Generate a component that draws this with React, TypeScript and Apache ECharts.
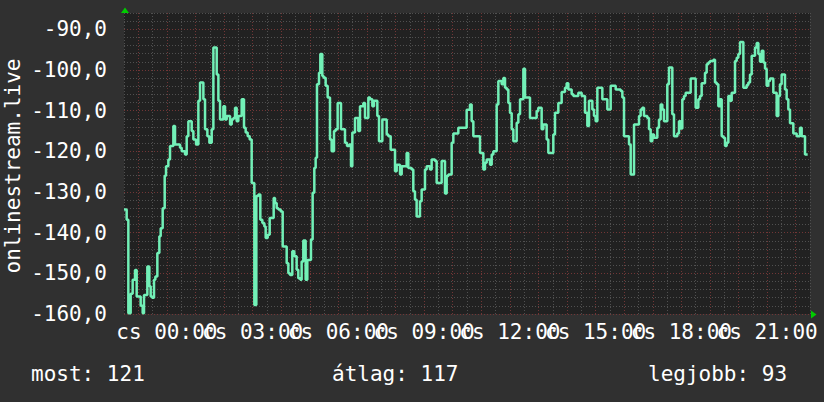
import React, { useEffect, useRef } from 'react';
import * as echarts from 'echarts';

// x values: minutes after 22:30 of the previous day (24 h window)
const START_HOUR = 22.5;
const SPAN_MINUTES = 1440;
const dayPrefix = 'cs';
const yAxisTitle = 'onlinestream.live';
const summaryLabels = ['most', 'átlag', 'legjobb'];
const summaryValues = [121, 117, 93];

const signal: [number, number][] = [
  [0, -134.3], [5.6, -136.8], [9.1, -159.8], [14.0, -155], [18.2, -151.6], [23.1, -149.2], [26.6, -155.7],
  [35.0, -158], [39.2, -159.8], [42.0, -155.3], [49.0, -148.3], [53.2, -153.2], [56.0, -155.7], [58.8, -156],
  [63.0, -151.6], [65.8, -150.8], [70.0, -145], [74.2, -140.9], [77.0, -138.9], [81.2, -134], [85.4, -126],
  [88.2, -123.7], [93.1, -122], [96.6, -118.7], [103.6, -113.8], [107.1, -118.3], [117.6, -119.1], [121.1, -120],
  [128.1, -120.8], [131.6, -116.3], [135.1, -112.6], [142.1, -115], [145.6, -117.1], [151.2, -118.3], [156.1, -107.6],
  [159.6, -103.1], [166.6, -107.2], [170.1, -114.6], [175.0, -116.3], [179.2, -117.9], [184.1, -114.6], [187.6, -94.5],
  [194.6, -101.1], [198.1, -107.6], [201.6, -112.2], [208.6, -108.9], [212.1, -112.2], [215.6, -111.3], [222.6, -113.4],
  [226.1, -112.2], [229.6, -111.8], [233.1, -109.3],
  [236.5, -112.6], [240.0, -111.3], [247.0, -107.2], [251.9, -114.2], [255.4, -115.4], [259.6, -116.3], [263.8, -117.1],
  [268.0, -127.8], [273.6, -157.8], [277.8, -131], [282.0, -130.6], [286.2, -136.8], [290.4, -137.6], [294.6, -138.5],
  [297.4, -141.3], [301.6, -140.5], [305.8, -136.4], [314.2, -131.5], [317.0, -132.7], [320.5, -134], [324.0, -134.3],
  [328.9, -134.8], [333.1, -143.4], [341.5, -147.5], [345.0, -150], [348.5, -150.4], [353.3, -144.6], [357.5, -145.8],
  [362.4, -149.1], [365.9, -151.2], [370.1, -151.6], [372.9, -147.1], [376.4, -141.9], [381.3, -151.6], [384.8, -146.7],
  [392.5, -141.7], [396.0, -130.2], [399.5, -124.1], [402.3, -121.6], [405.1, -103.5], [409.3, -100.7], [412.1, -96.1],
  [416.3, -101.5], [419.1, -101.9], [423.3, -103.9], [427.5, -106.8], [432.4, -117.1], [435.9, -120], [440.8, -115],
  [444.3, -114.6], [448.5, -108.1], [455.5, -114.6], [463.9, -117.9], [468.1, -118.7], [473.0, -118.3], [476.5, -123.7],
  [479.3, -115.4],
  [484.9, -111.8], [491.9, -115], [495.4, -108.9], [502.4, -108.1], [505.9, -111.8], [512.9, -106.8], [516.4, -107.2],
  [521.3, -108.9], [524.8, -107.6], [531.8, -111.3], [535.3, -117.5], [542.3, -112.2], [551.4, -115.9], [554.9, -116.3],
  [559.8, -119.6], [568.9, -124.9], [572.4, -123.3], [579.4, -125.7], [582.9, -123.7], [593.3, -120.4], [596.8, -124.1],
  [603.8, -124.5], [607.3, -129.8], [610.8, -131.9], [614.3, -136], [621.3, -132.3], [624.8, -129.4], [631.8, -124.5],
  [635.3, -123.7], [642.3, -124.5], [645.8, -122], [652.8, -122.4], [656.3, -127.8], [666.8, -122.4], [673.8, -130.4],
  [677.3, -126.1], [680.8, -125.7], [687.8, -117.9], [691.3, -115.6], [701.8, -114.2],
  [719.3, -109.8], [726.3, -108.5], [729.8, -112.6], [733.3, -116.3], [747.3, -120.4], [754.3, -124.5], [757.8, -122.8],
  [761.3, -122], [768.3, -123.3], [771.8, -120.8], [775.3, -120], [782.3, -108.5], [785.8, -102.7], [792.8, -103.5],
  [796.3, -102], [799.8, -104.4], [803.3, -104.8], [806.8, -108.1], [810.3, -110.6], [813.8, -114.6], [817.3, -117.5],
  [824.3, -113], [827.8, -110.9], [831.3, -107.2], [838.3, -99.7], [841.8, -106.8], [852.2, -111.8], [866.2, -110.1],
  [869.7, -109.3], [876.7, -114.6], [880.2, -113.4], [887.2, -117.1], [890.7, -120.4], [901.2, -115.9], [904.7, -110.5],
  [911.7, -108.1], [918.7, -105.4], [925.7, -104.4], [929.2, -103.3], [932.7, -104.8], [939.7, -106], [943.2, -106.4],
  [953.7, -105.6],
  [960.7, -106.4], [967.7, -110.5], [972.6, -113.8], [976.1, -107.6], [983.1, -109.7], [986.6, -111.3], [990.1, -112.6],
  [993.6, -104.4], [1004.1, -107.2], [1014.6, -109.7], [1021.6, -103.9], [1032.1, -104.8], [1042.6, -105.2], [1046.1, -106.8],
  [1049.6, -116.3], [1060.1, -118.3], [1063.6, -125.7], [1070.6, -113.4], [1081.1, -111.3], [1084.5, -109.7], [1088.0, -109.3],
  [1091.5, -111.3], [1098.5, -111.8], [1102.0, -114.6], [1105.5, -117.5], [1109.0, -115.9], [1112.5, -116.7], [1119.5, -114.2],
  [1123.0, -112.2], [1126.5, -108.5], [1130.0, -109.7], [1133.5, -112.6], [1140.5, -103.5], [1144.0, -99.4], [1151.0, -110.9],
  [1154.5, -116.3], [1161.5, -115.6], [1165.0, -112.6], [1168.5, -114.4], [1172.0, -107.2], [1175.5, -106.4], [1179.0, -105.6],
  [1189.5, -102.1], [1200.0, -109.3],
  [1205.6, -107.2], [1209.1, -106.4], [1212.6, -103.3], [1219.6, -100.7], [1223.1, -98.6], [1226.6, -98.2], [1230.1, -97.8],
  [1237.1, -97.5], [1240.6, -103.1], [1244.1, -103.5], [1247.6, -108.9], [1251.1, -107.2], [1254.6, -116.3], [1258.1, -116.7],
  [1261.6, -118.7], [1265.1, -117.9], [1268.6, -106.4], [1272.1, -107.6], [1275.6, -105.6], [1282.6, -97.8], [1286.1, -97],
  [1289.6, -96.1], [1293.1, -93.1], [1300.1, -104.4], [1307.1, -103.7], [1310.6, -103.1], [1314.1, -101.1], [1317.6, -96.5],
  [1324.6, -94.5], [1328.1, -93.4], [1331.6, -96.1], [1335.1, -98], [1338.6, -95.3], [1342.1, -98.2], [1345.6, -99.7],
  [1349.0, -103.9], [1352.5, -102.7], [1356.0, -102.1], [1363.0, -105.6], [1370.0, -111.3], [1373.5, -106.4], [1377.0, -103.5],
  [1380.5, -101.1], [1387.5, -104.8], [1391.0, -107.2], [1394.5, -109.7], [1398.0, -113.1], [1405.0, -115.6], [1412.0, -116.3],
  [1419.0, -114.2], [1422.5, -116.3], [1429.5, -120.8], [1435.1, -120.8],
];

const FONT = 'DejaVu Sans Mono';
const FS = 21;

export default function App() {
  const ref = useRef<HTMLDivElement>(null);
  useEffect(() => {
    if (!ref.current) return;
    const chart = echarts.init(ref.current, null, { renderer: 'svg' });
    const xLabel = (v: number) => {
      const h = (START_HOUR + v / 60) % 24;
      const r = Math.round(h);
      if (Math.abs(h - r) < 1e-6 && r % 3 === 0) {
        return `${dayPrefix} ${String(r).padStart(2, '0')}:00`;
      }
      return '';
    };
    const yLabel = (v: number) => (Math.abs(v % 10) < 1e-6 ? v.toFixed(1).replace('.', ',') : '');
    const font = `${FS}px "${FONT}"`;
    chart.setOption({
      animation: false,
      backgroundColor: '#303030',
      textStyle: { fontFamily: FONT },
      grid: {
        left: 124, right: 14, top: 13, bottom: 88,
        show: true, backgroundColor: '#212121', borderWidth: 0,
      },
      xAxis: {
        type: 'value', min: 0, max: SPAN_MINUTES, interval: 30,
        axisLine: { show: false },
        axisTick: { show: false },
        splitLine: { show: true, lineStyle: { color: ['#505050', '#723636'], type: [1, 2], width: 1 } },
        axisLabel: { color: '#ffffff', fontSize: FS, fontFamily: FONT, margin: 7, formatter: xLabel, hideOverlap: false },
      },
      yAxis: {
        type: 'value', min: -160, max: -86, interval: 2,
        axisLine: { show: false },
        axisTick: { show: false },
        splitLine: { show: true, lineStyle: { color: ['#723636', '#505050', '#505050', '#505050', '#505050'], type: [1, 2], width: 1 } },
        axisLabel: { color: '#ffffff', fontSize: FS, fontFamily: FONT, margin: 17, formatter: yLabel },
      },
      series: [{
        type: 'line', data: signal, step: 'end', symbol: 'none', showSymbol: false, silent: true,
        lineStyle: { color: '#72f0b7', width: 2.5 },
      }],
      graphic: [
        { type: 'polygon', shape: { points: [[121, 13], [125, 7.5], [129, 13]] }, style: { fill: '#00cc00' } },
        { type: 'polygon', shape: { points: [[811, 310.5], [816.5, 314.5], [811, 318.5]] }, style: { fill: '#00cc00' } },
        {
          type: 'text', x: 13, y: 166, rotation: Math.PI / 2,
          style: { text: yAxisTitle, fill: '#ffffff', font, align: 'center', verticalAlign: 'middle' },
        },
        { type: 'text', x: 31, y: 374, style: { text: `${summaryLabels[0]}: ${summaryValues[0]}`, fill: '#ffffff', font, align: 'left', verticalAlign: 'middle' } },
        { type: 'text', x: 332, y: 374, style: { text: `${summaryLabels[1]}: ${summaryValues[1]}`, fill: '#ffffff', font, align: 'left', verticalAlign: 'middle' } },
        { type: 'text', x: 648, y: 374, style: { text: `${summaryLabels[2]}: ${summaryValues[2]}`, fill: '#ffffff', font, align: 'left', verticalAlign: 'middle' } },
      ],
    });
    return () => chart.dispose();
  }, []);
  return <div ref={ref} style={{ position: 'absolute', left: 0, top: 0, width: 824, height: 402 }} />;
}
